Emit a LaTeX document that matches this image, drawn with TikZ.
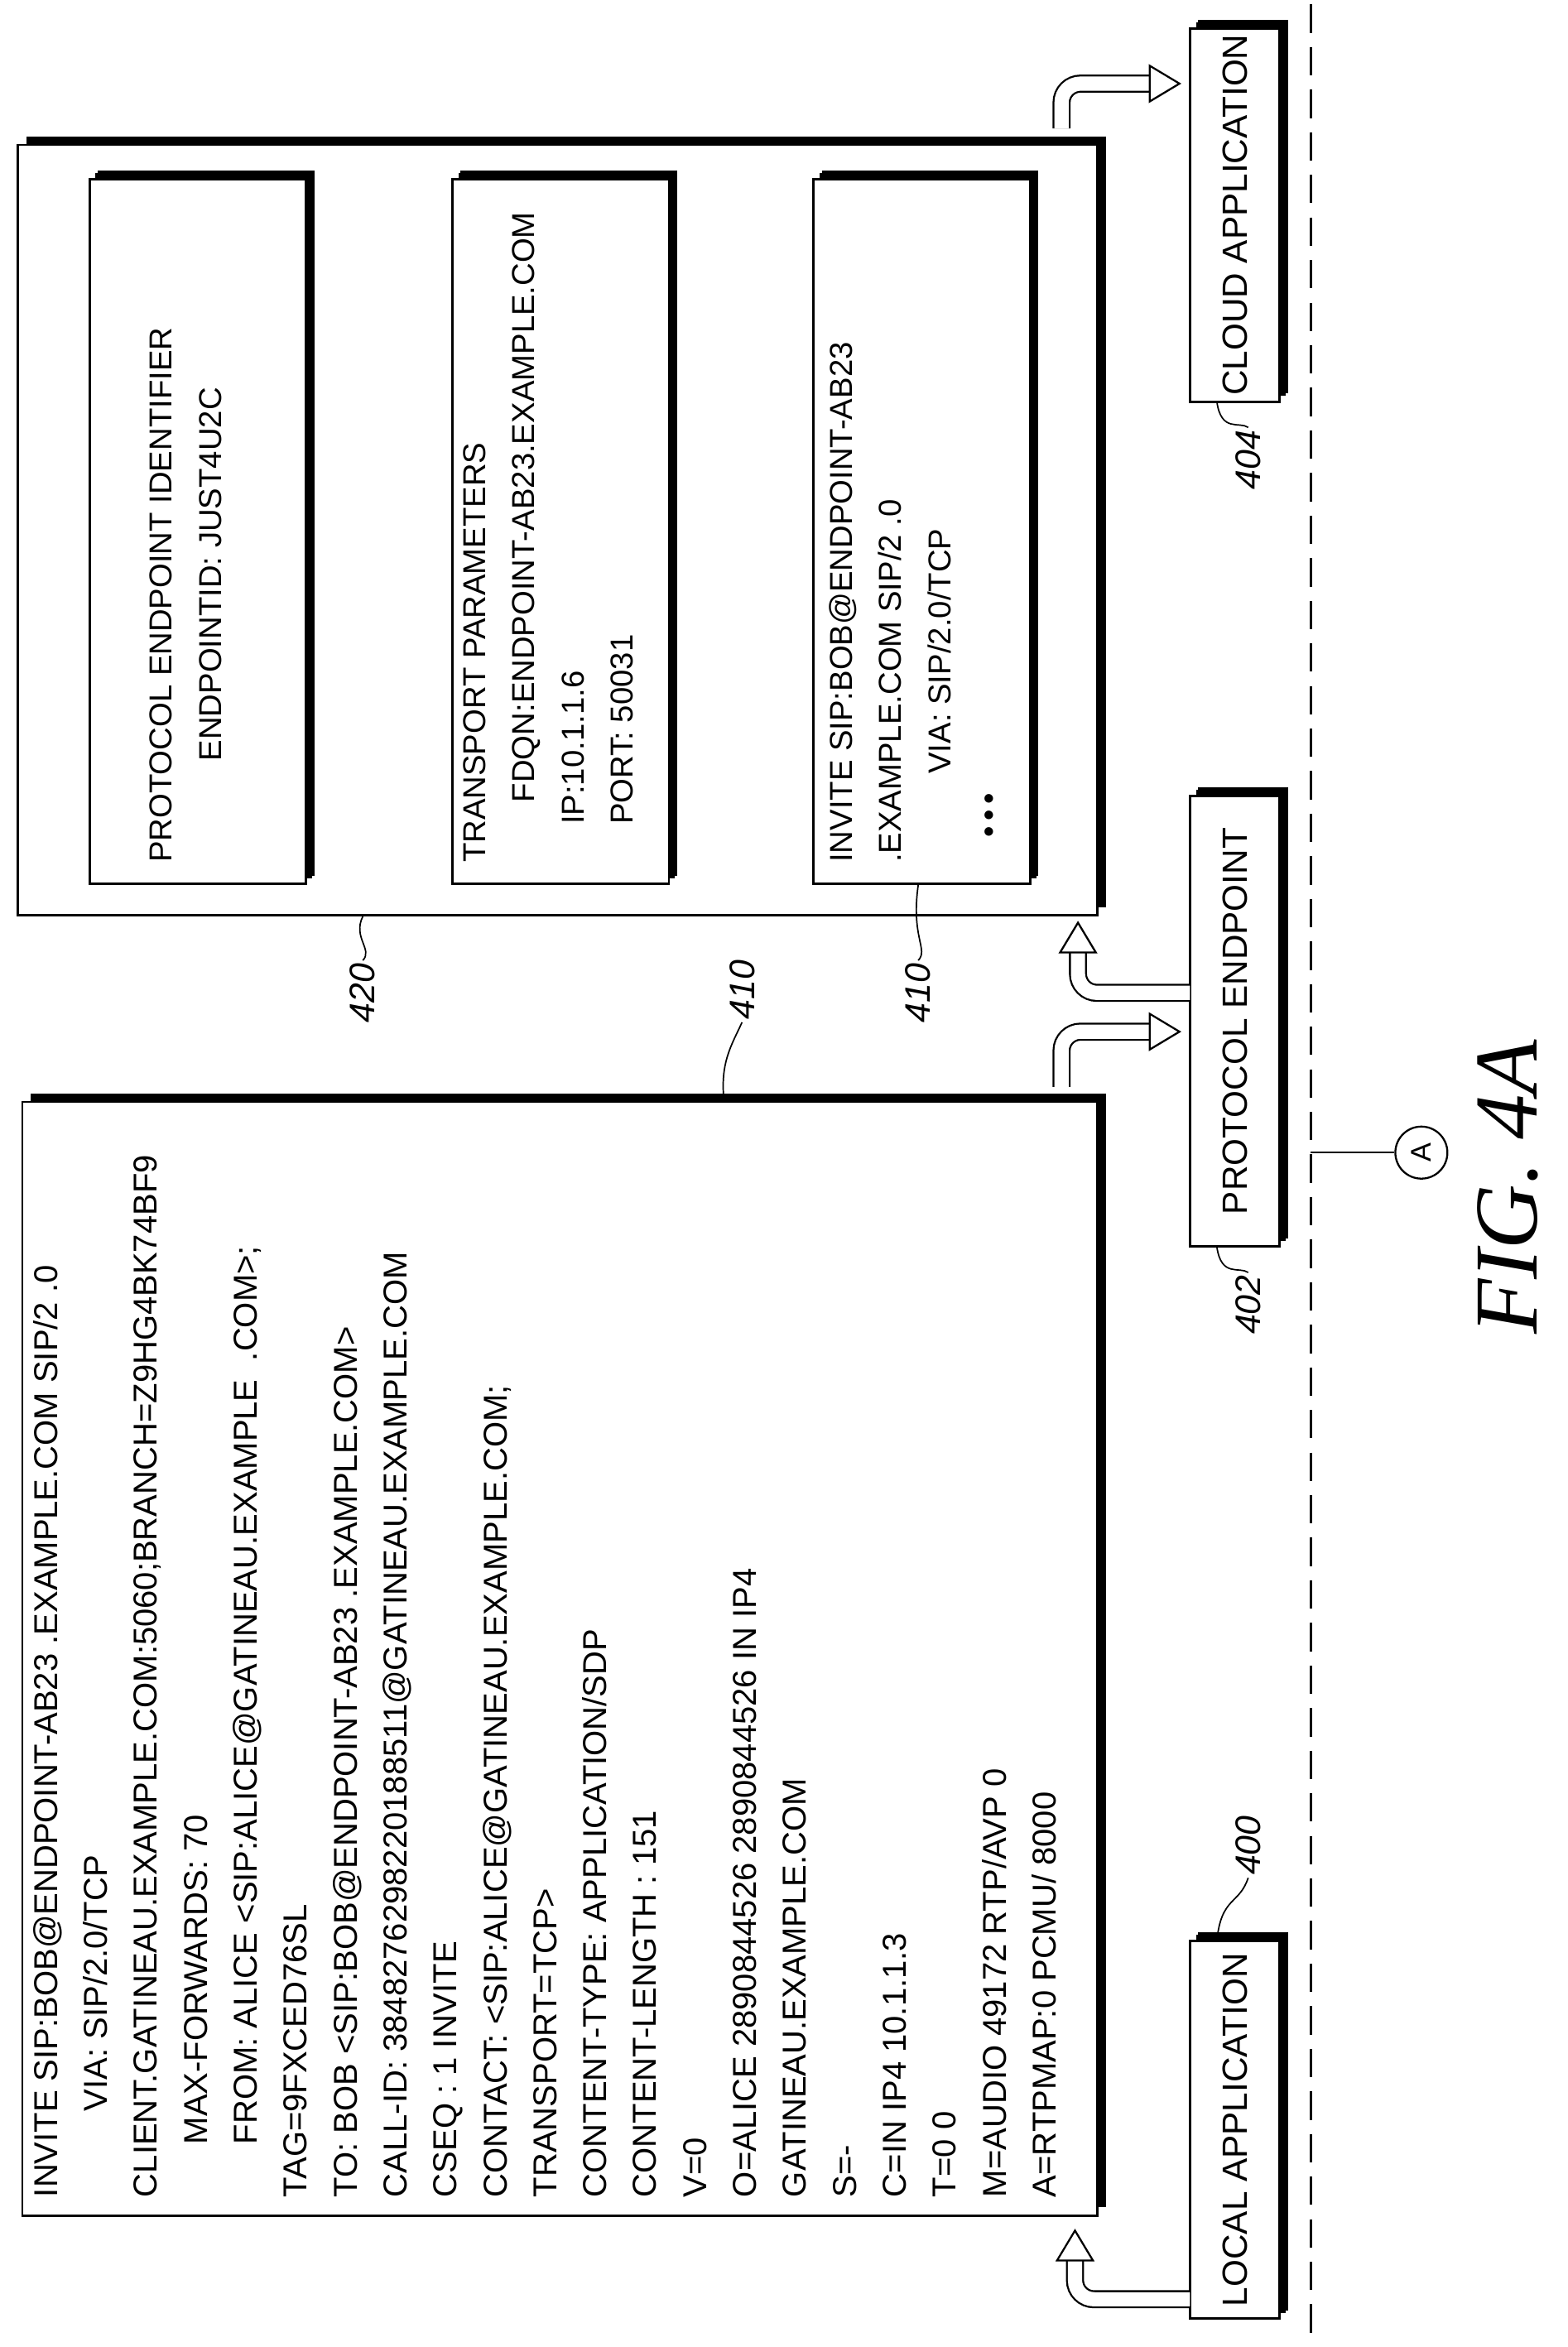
\documentclass[tikz,border=0pt]{standalone}
\usepackage{fontspec}
\setmainfont{Liberation Sans}
\newfontfamily\figserif{Liberation Serif}
\usetikzlibrary{shadows,fit}
\begin{document}
\begin{tikzpicture}[x=0.631pt,y=-0.631pt,
  box/.style={draw,line width=1pt,fill=white,inner sep=0pt,
    drop shadow={shadow xshift=3.5pt,shadow yshift=3.5pt,fill=black,opacity=1}},
  sbox/.style={box,drop shadow={shadow xshift=2.5pt,shadow yshift=2.5pt,fill=black,opacity=1}},
  txt/.style={rotate=90,font=\fontsize{14}{20.6}\selectfont,align=left,inner sep=0pt},
  btxt/.style={txt,font=\fontsize{14}{21.1}\selectfont},
  itxt/.style={txt,font=\fontsize{13.4}{20.8}\selectfont},
  lab/.style={rotate=90,font=\fontsize{15}{16}\selectfont\itshape,inner sep=1pt},
  lead/.style={line width=0.6pt},
  hol/.style={draw=black,line width=0.8pt,double=white,double distance=6pt,rounded corners=8pt},
  head/.style={draw=black,line width=0.8pt,fill=white,line join=miter}]
\useasboundingbox (0,0) rectangle (1050,1572);
% dashed line
\coordinate (dt) at (878,3);
\coordinate (db) at (878,1570);
\draw[line width=0.9pt,dash pattern=on 12pt off 6pt] (dt) -- (db);
% boxes
\coordinate (a1) at (15,738); \coordinate (a2) at (735,1484);
\node[box,fit=(a1)(a2)] (big) {};
\coordinate (b1) at (12,97); \coordinate (b2) at (735,613);
\node[box,fit=(b1)(b2)] (pe) {};
\coordinate (c1) at (60,120); \coordinate (c2) at (205,592);
\node[sbox,fit=(c1)(c2)] (in1) {};
\coordinate (d1) at (303,120); \coordinate (d2) at (448,592);
\node[sbox,fit=(d1)(d2)] (in2) {};
\coordinate (e1) at (545,120); \coordinate (e2) at (690,592);
\node[sbox,fit=(e1)(e2)] (in3) {};
\coordinate (f1) at (797,19); \coordinate (f2) at (857,269);
\node[sbox,fit=(f1)(f2)] (cloud) {};
\coordinate (g1) at (797,533); \coordinate (g2) at (857,835);
\node[sbox,fit=(g1)(g2)] (prot) {};
\coordinate (h1) at (797,1300); \coordinate (h2) at (857,1553);
\node[sbox,fit=(h1)(h2)] (local) {};
\node[txt,font=\fontsize{14.8}{16}\selectfont] at (cloud.center) {CLOUD APPLICATION};
\node[txt,font=\fontsize{14.8}{16}\selectfont] at (prot.center) {PROTOCOL ENDPOINT};
\node[txt,font=\fontsize{14.8}{16}\selectfont] at (local.center) {LOCAL APPLICATION};
% big text
\node[btxt,anchor=north west] (bigtxt) at (22,1472) {INVITE SIP:BOB@ENDPOINT-AB23 .EXAMPLE.COM SIP/2 .0\\
\hspace*{2.6em}VIA: SIP/2.0/TCP\\
CLIENT.GATINEAU.EXAMPLE.COM:5060;BRANCH=Z9HG4BK74BF9\\
\hspace*{1.6em}MAX-FORWARDS: 70\\
\hspace*{1.6em}FROM: ALICE <SIP:ALICE@GATINEAU.EXAMPLE\ \ .COM>;\\
TAG=9FXCED76SL\\
TO: BOB <SIP:BOB@ENDPOINT-AB23 .EXAMPLE.COM>\\
CALL-ID: 3848276298220188511@GATINEAU.EXAMPLE.COM\\
CSEQ : 1 INVITE\\
CONTACT: <SIP:ALICE@GATINEAU.EXAMPLE.COM;\\
TRANSPORT=TCP>\\
CONTENT-TYPE: APPLICATION/SDP\\
CONTENT-LENGTH : 151\\
V=0\\
O=ALICE 2890844526 2890844526 IN IP4\\
GATINEAU.EXAMPLE.COM\\
S=-\\
C=IN IP4 10.1.1.3\\
T=0 0\\
M=AUDIO 49172 RTP/AVP 0\\
A=RTPMAP:0 PCMU/ 8000};
\node[itxt,anchor=north west] (t1) at (100,578) {PROTOCOL ENDPOINT IDENTIFIER\\
\hspace*{3.2em}ENDPOINTID: JUST4U2C};
\node[itxt,anchor=north west] (t2) at (310,578) {TRANSPORT PARAMETERS\\
\hspace*{1.9em}FDQN:ENDPOINT-AB23.EXAMPLE.COM\\
\hspace*{1.2em}IP:10.1.1.6\\
\hspace*{1.2em}PORT: 50031};
\node[itxt,anchor=north west] (t3) at (555,578) {INVITE SIP:BOB@ENDPOINT-AB23\\
.EXAMPLE.COM SIP/2 .0\\
\hspace*{2.8em}VIA: SIP/2.0/TCP\\
\hspace*{0.8em}\textbullet\,\textbullet\,\textbullet};
% labels
\node[lab] (l420) at (243,665) {420};
\draw[lead] (pe.south -| l420) .. controls (236,628) and (250,636) .. (l420.east);
\node[lab] (l410a) at (497,663) {410};
\draw[lead] (l410a.west) .. controls (490,700) and (482,712) .. (485,738);
\node[lab] (l410b) at (615,665) {410};
\draw[lead] (in3.south -| l410b) .. controls (610,628) and (622,636) .. (l410b.east);
\node[lab] (l404) at (836,308) {404};
\draw[lead] (815,269) .. controls (818,290) and (830,282) .. (l404.east);
\node[lab] (l402) at (836,874) {402};
\draw[lead] (815,835) .. controls (818,856) and (830,848) .. (l402.east);
\node[lab] (l400) at (836,1236) {400};
\draw[lead] (l400.west) .. controls (830,1276) and (818,1270) .. (815,1300);
% circle A
\node[draw,circle,line width=0.8pt,minimum size=22pt,inner sep=0pt,font=\fontsize{12}{12}\selectfont] (A) at (952,772) {\rotatebox{90}{A}};
\coordinate (Ad) at (878,772);
\draw[line width=0.8pt] (Ad) -- (A);
% FIG
\node[rotate=90,font=\figserif\itshape\fontsize{38}{40}\selectfont] (fig) at (1010,795) {FIG. 4A};
% hollow arrows
\draw[hol] (711,86) -- (711,56) -- (772,56);
\draw[head] (770,44) -- (790,56) -- (770,68) -- cycle;
\draw[hol] (711,728) -- (711,691) -- (772,691);
\draw[head] (770,679) -- (790,691) -- (770,703) -- cycle;
\draw[hol] (797,665) -- (722,665) -- (722,636);
\draw[head] (710,638) -- (722,618) -- (734,638) -- cycle;
\draw[hol] (797,1540) -- (720,1540) -- (720,1512);
\draw[head] (708,1514) -- (720,1494) -- (732,1514) -- cycle;
\end{tikzpicture}
\end{document}
